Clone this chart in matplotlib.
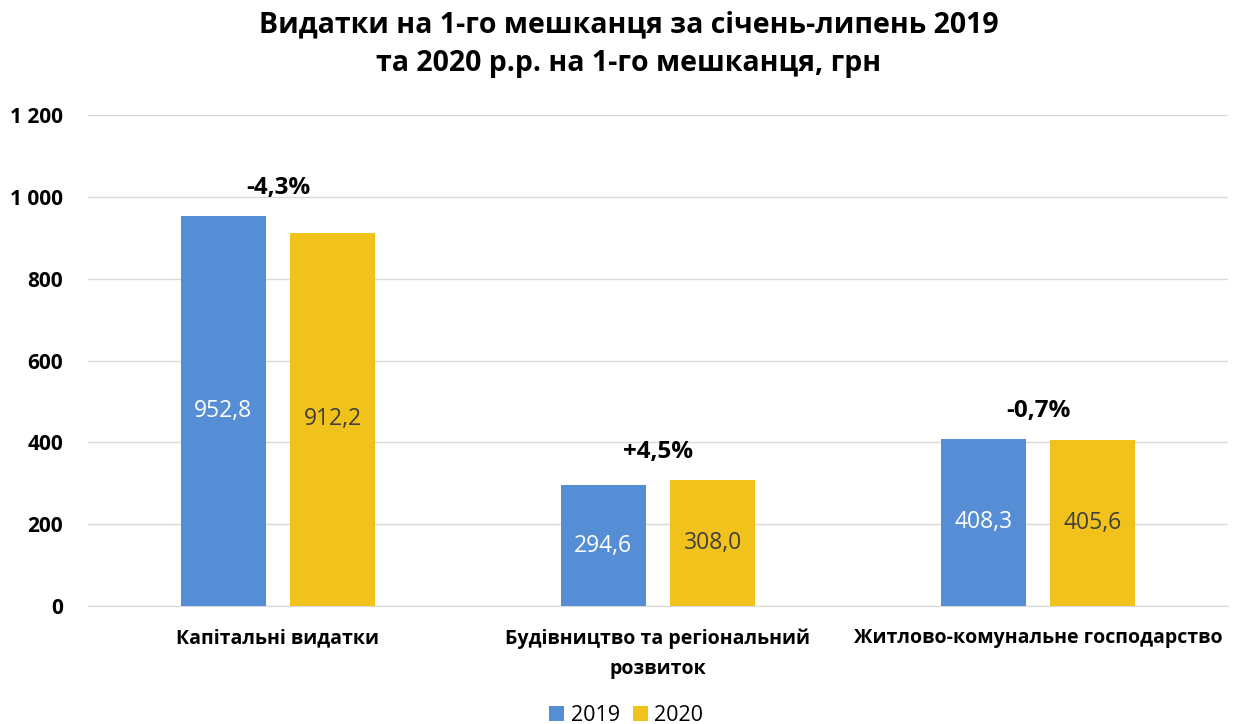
import numpy as np
import matplotlib
matplotlib.use("Agg")
import matplotlib.pyplot as plt

plt.rcParams['font.family'] = ['Open Sans', 'DejaVu Sans']

categories = ["Капітальні видатки", "Будівництво та регіональний\nрозвиток",
              "Житлово-комунальне господарство"]
v2019 = [952.8, 294.6, 408.3]
v2020 = [912.2, 308.0, 405.6]
changes = ["-4,3%", "+4,5%", "-0,7%"]
yticks = [0, 200, 400, 600, 800, 1000, 1200]
ytick_labels = ["0", "200", "400", "600", "800", "1 000", "1 200"]

BLUE = "#558ED5"
YELLOW = "#F0C21B"

fig = plt.figure(figsize=(12.38, 7.24), dpi=100)
ax = fig.add_axes([0.071, 0.163, 0.921, 0.678])

x = np.arange(len(categories))
w = 0.224
off = 0.144
b1 = ax.bar(x - off, v2019, w, color=BLUE, label="2019", zorder=3)
b2 = ax.bar(x + off, v2020, w, color=YELLOW, label="2020", zorder=3)

fmt = lambda v: f"{v:.1f}".replace(".", ",")
for rect, v in zip(b1, v2019):
    ax.text(rect.get_x() + rect.get_width() / 2, v / 2, fmt(v), ha="center",
            va="center", color="white", fontsize=16.5, zorder=4)
for rect, v in zip(b2, v2020):
    ax.text(rect.get_x() + rect.get_width() / 2, v / 2, fmt(v), ha="center",
            va="center", color="#404040", fontsize=16.5, zorder=4)
for xi, a, b, c in zip(x, v2019, v2020, changes):
    ax.text(xi, max(a, b) + 68, c, ha="center", va="center",
            fontsize=17.5, fontweight="bold", color="black")

ax.set_xlim(-0.5, 2.5)
ax.set_ylim(0, 1200)
ax.set_yticks(yticks)
ax.set_yticklabels(ytick_labels, fontsize=15, fontweight="bold")
ax.set_xticks(x)
ax.set_xticklabels(categories, fontsize=14, fontweight="bold", linespacing=1.7)
ax.tick_params(length=0)
ax.tick_params(axis="y", pad=18)
ax.tick_params(axis="x", pad=16)
ax.grid(axis="y", color="#D9D9D9", lw=1, zorder=0)
for s in ["top", "right", "left"]:
    ax.spines[s].set_visible(False)
ax.spines["bottom"].set_color("#D9D9D9")

fig.text(0.508, 0.985, "Видатки на 1-го мешканця за січень-липень 2019\nта 2020 р.р. на 1-го мешканця, грн",
         ha="center", va="top", fontsize=20.5, fontweight="bold", linespacing=1.4)

fig.legend(handles=[b1, b2], loc="lower center", ncol=2, frameon=False,
           fontsize=15.5, bbox_to_anchor=(0.506, -0.03), handlelength=0.7,
           handleheight=0.7, columnspacing=0.6, handletextpad=0.3)

fig.savefig("out.png", dpi=100)
